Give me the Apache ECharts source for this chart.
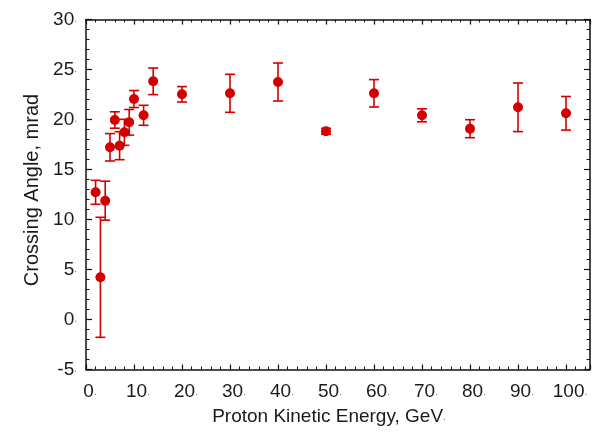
<!doctype html>
<html lang="en">
<head>
	<meta charset="utf-8">
	<title>Crossing Angle vs Proton Kinetic Energy</title>
	<script src="https://cdn.jsdelivr.net/npm/echarts@6/dist/echarts.min.js"></script>
	<style>
		html, body { margin: 0; padding: 0; background: #fff; }
		#chart { width: 600px; height: 434px; }
	</style>
</head>
<body>
	<div id="chart"></div>
	<script>
		// values
		var energies = [2, 3, 4, 5, 6, 7, 8, 9, 10, 12, 14, 20, 30, 40, 50, 60, 70, 80, 90, 100];
		var angles = [12.72, 4.22, 11.88, 17.22, 19.95, 17.38, 18.72, 19.72, 22.05, 20.42, 23.82, 22.52, 22.62, 23.75, 18.82, 22.62, 20.42, 19.08, 21.22, 20.62];
		var errors = [1.2, 6.0, 1.95, 1.37, 0.82, 1.4, 1.3, 1.28, 0.85, 1.0, 1.33, 0.77, 1.9, 1.9, 0.3, 1.37, 0.65, 0.9, 2.43, 1.68];

		var red = '#d40000';
		var textColor = '#1a1a1a';
		var font = 'Liberation Sans, Arial, sans-serif';

		var points = [];
		var bars = [];
		for (var i = 0; i < energies.length; i++) {
			points.push([energies[i], angles[i]]);
			bars.push([energies[i], angles[i] - errors[i], angles[i] + errors[i]]);
		}

		// the small grey dot that trails every label in the original
		var dotRich = { d: { fontSize: 10, color: '#777', fontFamily: font } };

		function renderErrorBar(params, api) {
			var x = api.value(0);
			var lo = api.coord([x, api.value(1)]);
			var hi = api.coord([x, api.value(2)]);
			var cap = 5;
			var style = { stroke: red, lineWidth: 1.6 };
			return {
				type: 'group',
				children: [
					{ type: 'line', shape: { x1: lo[0], y1: lo[1], x2: hi[0], y2: hi[1] }, style: style },
					{ type: 'line', shape: { x1: lo[0] - cap, y1: lo[1], x2: lo[0] + cap, y2: lo[1] }, style: style },
					{ type: 'line', shape: { x1: hi[0] - cap, y1: hi[1], x2: hi[0] + cap, y2: hi[1] }, style: style }
				]
			};
		}

		var axisLine = { show: true, onZero: false, lineStyle: { color: '#111', width: 1.5 } };

		var option = {
			animation: false,
			textStyle: { fontFamily: font },
			grid: { left: 86, right: 10, top: 19.5, bottom: 64.5 },
			xAxis: [{
				type: 'value',
				min: 0,
				max: 105,
				interval: 10,
				name: 'Proton Kinetic Energy, GeV{d|.}',
				nameLocation: 'middle',
				nameGap: 38,
				nameTextStyle: { fontSize: 19, color: textColor, fontFamily: font, rich: dotRich, padding: [0, 18, 0, 0] },
				axisLine: axisLine,
				axisTick: { inside: true, length: 5, lineStyle: { color: '#111', width: 1.2 } },
				minorTick: { show: true, splitNumber: 5, length: 3, lineStyle: { color: '#111', width: 1 } },
				splitLine: { show: false },
				axisLabel: {
					fontSize: 19, color: textColor, margin: 13, fontFamily: font,
					padding: [0, 0, 0, 8],
					formatter: function (v) { return v + '{d|.}'; },
					rich: dotRich
				}
			}, {
				type: 'value',
				position: 'top',
				min: 0,
				max: 105,
				interval: 10,
				axisLine: axisLine,
				axisTick: { inside: true, length: 5, lineStyle: { color: '#111', width: 1.2 } },
				minorTick: { show: true, splitNumber: 5, length: 3, lineStyle: { color: '#111', width: 1 } },
				splitLine: { show: false },
				axisLabel: { show: false }
			}],
			yAxis: [{
				type: 'value',
				min: -5,
				max: 30,
				interval: 5,
				name: 'Crossing Angle, mrad',
				nameLocation: 'middle',
				nameGap: 40,
				nameTextStyle: { fontSize: 20, color: textColor, fontFamily: font, padding: [0, 0, 0, 9] },
				axisLine: axisLine,
				axisTick: { inside: true, length: 6, lineStyle: { color: '#111', width: 1.2 } },
				minorTick: { show: true, splitNumber: 5, length: 3.5, lineStyle: { color: '#111', width: 1 } },
				splitLine: { show: false },
				axisLabel: {
					fontSize: 19, color: textColor, margin: 9, fontFamily: font,
					formatter: function (v) { return v + '{d|.}'; },
					rich: dotRich
				}
			}, {
				type: 'value',
				position: 'right',
				min: -5,
				max: 30,
				interval: 5,
				axisLine: axisLine,
				axisTick: { inside: true, length: 6, lineStyle: { color: '#111', width: 1.2 } },
				minorTick: { show: true, splitNumber: 5, length: 3.5, lineStyle: { color: '#111', width: 1 } },
				splitLine: { show: false },
				axisLabel: { show: false }
			}],
			series: [{
				type: 'custom',
				renderItem: renderErrorBar,
				data: bars,
				encode: { x: 0, y: [1, 2] },
				z: 2
			}, {
				type: 'scatter',
				data: points,
				symbol: 'circle',
				symbolSize: 10,
				itemStyle: { color: red, opacity: 1 },
				z: 3
			}]
		};

		var chart = echarts.init(document.getElementById('chart'));
		chart.setOption(option);
	</script>
</body>
</html>
